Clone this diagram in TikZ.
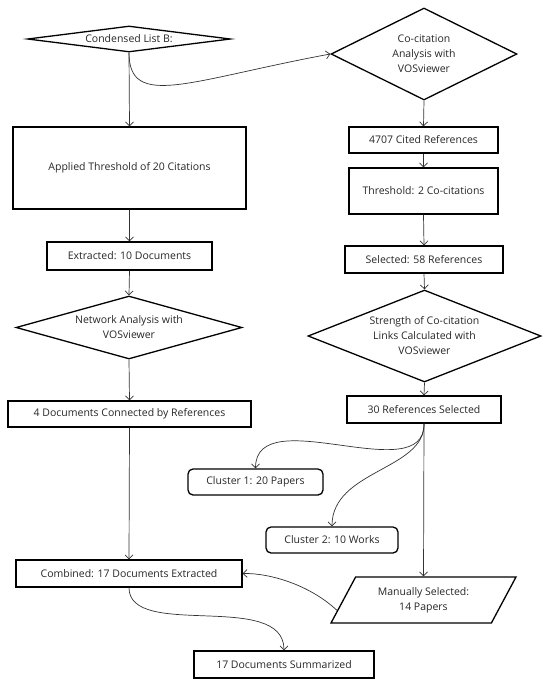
\documentclass[tikz,border=0pt]{standalone}
\usepackage{fontspec}
\setmainfont{Open Sans}
\usepackage{tikz}
\usetikzlibrary{positioning,shapes.geometric,arrows.meta,calc}

\begin{document}
\begin{tikzpicture}[x=1pt,y=-1pt,
    every node/.style={font=\fontsize{10.5}{15}\selectfont,text=black!85,align=center},
    box/.style={draw,line width=1.3pt,inner sep=0pt},
    dia/.style={draw,diamond,line width=1.3pt,inner sep=0pt},
    clus/.style={draw,rounded corners=5pt,line width=1.3pt,inner sep=0pt},
    arr/.style={draw=black!80,line width=0.7pt,-{Straight Barb[length=4pt,width=8pt]}}]
  \useasboundingbox (0,0) rectangle (550,686);

  % ---------------- Left column ----------------
  \node[dia,aspect=7.8,minimum width=203,minimum height=26] (cond) at (129,39) {Condensed List B:};
  \node[box,minimum width=233,minimum height=82] (thr20) at (129.5,168) {Applied Threshold of 20 Citations};
  \node[box,minimum width=165,minimum height=28] (ext10) at (129.5,256) {Extracted: 10 Documents};
  \node[dia,aspect=3.6,minimum width=226,minimum height=63] (netw) at (129,327.5) {Network Analysis with\\VOSviewer};
  \node[box,minimum width=243,minimum height=26] (conn4) at (129.5,414) {4 Documents Connected by References};
  \node[box,minimum width=226,minimum height=27] (comb) at (129,573.5) {Combined: 17 Documents Extracted};
  \node[box,minimum width=180,minimum height=27] (summ) at (284,664.5) {17 Documents Summarized};

  % ---------------- Right column ----------------
  \node[dia,aspect=2,minimum width=186,minimum height=92] (cocit) at (424,54) {Co-citation\\Analysis with\\VOSviewer};
  \node[box,minimum width=149,minimum height=26] (cited) at (423.5,140) {4707 Cited References};
  \node[box,minimum width=149,minimum height=46] (thr2) at (423.5,191) {Threshold: 2 Co-citations};
  \node[box,minimum width=158,minimum height=27] (sel58) at (424,259.5) {Selected: 58 References};
  \node[dia,aspect=2.5,minimum width=233,minimum height=92] (strength) at (424.5,336) {Strength of Co-citation\\Links Calculated with\\VOSviewer};
  \node[box,minimum width=154,minimum height=27] (ref30) at (424,409.5) {30 References Selected};
  \node[clus,minimum width=135,minimum height=26] (clu1) at (255.5,482) {Cluster 1: 20 Papers};
  \node[clus,minimum width=132,minimum height=26] (clu2) at (332,540) {Cluster 2: 10 Works};
  \node[box,trapezium,trapezium left angle=46,trapezium right angle=134,trapezium stretches body,
        minimum width=185,minimum height=46] (man) at (423.5,600) {Manually Selected:\\14 Papers};
  \coordinate (manin) at ($(man.bottom left corner)!0.28!(man.top left corner)$);

  % ---------------- Connectors ----------------
  \draw[arr] (cond.south) -- (thr20.north);
  \draw[arr] (cond.south) .. controls (129,110) and (190,80) .. (cocit.west);
  \draw[arr] (thr20.south) -- (ext10.north);
  \draw[arr] (ext10.south) -- (netw.north);
  \draw[arr] (netw.south) -- (conn4.north);
  \draw[arr] (conn4.south) -- (comb.north);
  \draw[arr] (comb.south) .. controls (129,640) and (284,590) .. (summ.north);

  \draw[arr] (cocit.south) -- (cited.north);
  \draw[arr] (cited.south) -- (thr2.north);
  \draw[arr] (thr2.south) -- (sel58.north);
  \draw[arr] (sel58.south) -- (strength.north);
  \draw[arr] (strength.south) -- (ref30.north);
  \draw[arr] (ref30.south) -- (man.north);
  \draw[arr] (ref30.south) .. controls (425,490) and (256,400) .. (clu1.north);
  \draw[arr] (ref30.south) .. controls (425,470) and (332,470) .. (clu2.north);
  \draw[arr] (manin) .. controls (310,585) and (270,573) .. (comb.east);
\end{tikzpicture}
\end{document}
